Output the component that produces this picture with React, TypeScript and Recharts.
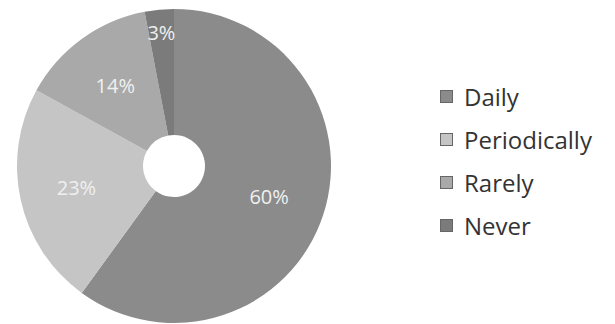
import { Pie, PieChart, Cell } from "recharts";

const CATEGORIES = ["Daily", "Periodically", "Rarely", "Never"];
const VALUES = [60, 23, 14, 3];

const COLORS: Record<string, string> = {
  Daily: "#8b8b8b",
  Periodically: "#c5c5c5",
  Rarely: "#a9a9a9",
  Never: "#7b7b7b",
};

const data = CATEGORIES.map((name, i) => ({ name, value: VALUES[i] }));

const RAD = Math.PI / 180;

function renderLabel(props: any) {
  const { cx, cy, midAngle, outerRadius, percent, value } = props;
  // tiny slices get pushed out toward the rim, like the original
  const r = percent < 0.05 ? outerRadius - 23 : outerRadius - 57;
  const x = cx + r * Math.cos(-midAngle * RAD);
  const y = cy + r * Math.sin(-midAngle * RAD);
  return (
    <text
      x={x}
      y={y}
      fill="#f0f0f0"
      fontSize={20}
      fontFamily="'Open Sans', sans-serif"
      textAnchor="middle"
      dominantBaseline="central"
    >
      {`${value}%`}
    </text>
  );
}

function LegendList() {
  return (
    <ul
      style={{
        position: "absolute",
        left: 440,
        top: 75,
        listStyle: "none",
        margin: 0,
        padding: 0,
      }}
    >
      {data.map((entry) => (
        <li
          key={entry.name}
          style={{
            display: "flex",
            alignItems: "center",
            height: 43,
            fontFamily: "'Open Sans', sans-serif",
            fontSize: 24,
            color: "#333",
          }}
        >
          <span
            style={{
              display: "inline-block",
              width: 11,
              height: 11,
              marginRight: 11,
              backgroundColor: COLORS[entry.name],
              border: "1px solid #666",
            }}
          />
          <span>{entry.name}</span>
        </li>
      ))}
    </ul>
  );
}

export default function App() {
  return (
    <div
      style={{
        position: "absolute",
        left: 0,
        top: 0,
        width: 615,
        height: 324,
        background: "#fff",
      }}
    >
      <PieChart
        width={615}
        height={324}
        margin={{ top: 0, right: 0, bottom: 0, left: 0 }}
      >
        <Pie
          data={data}
          dataKey="value"
          nameKey="name"
          cx={174}
          cy={166}
          innerRadius={31}
          outerRadius={157}
          startAngle={90}
          endAngle={-270}
          stroke="none"
          label={renderLabel}
          labelLine={false}
          isAnimationActive={false}
        >
          {data.map((entry) => (
            <Cell key={entry.name} fill={COLORS[entry.name]} />
          ))}
        </Pie>
      </PieChart>
      <LegendList />
    </div>
  );
}
